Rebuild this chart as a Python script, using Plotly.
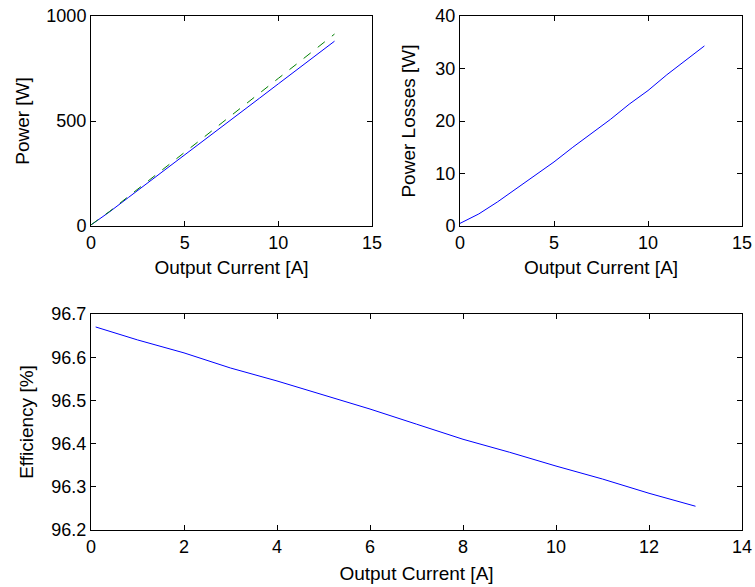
import plotly.graph_objects as go

# Data
current = [0, 1, 2, 3, 4, 5, 6, 7, 8, 9, 10, 11, 12, 13]
power_out = [5, 68, 136, 203, 271, 339, 406, 474, 541, 609, 677, 744, 812, 880]
power_in = [5.5, 70, 141, 210, 281, 351, 421, 492, 561, 632, 703, 773, 844, 914]
losses = [0.5, 2.3, 4.6, 7.1, 9.7, 12.2, 15.0, 17.7, 20.3, 23.2, 25.8, 28.8, 31.5, 34.3]
eff_current = [0.1, 1, 2, 3, 4, 5, 6, 7, 8, 9, 10, 11, 12, 13]
efficiency = [96.67, 96.64, 96.61, 96.575, 96.545, 96.513, 96.48, 96.445, 96.41,
              96.38, 96.348, 96.318, 96.285, 96.255]

FONT = "Liberation Sans, Arial, sans-serif"
TICK_FS = 18
TITLE_FS = 19

# body margin is removed by the post script, so the figure fills the window
W, H = 755, 587
OFF = 0


def dx(px):
    return (px - OFF) / W


def dy(px):
    return 1 - (px - OFF) / H


fig = go.Figure()
fig.add_trace(go.Scatter(x=current, y=power_out, mode="lines",
                         line=dict(color="#0000ff", width=1), xaxis="x", yaxis="y"))
fig.add_trace(go.Scatter(x=current, y=power_in, mode="lines",
                         line=dict(color="#008000", width=1, dash="dash"), xaxis="x", yaxis="y"))
fig.add_trace(go.Scatter(x=current, y=losses, mode="lines",
                         line=dict(color="#0000ff", width=1), xaxis="x2", yaxis="y2"))
fig.add_trace(go.Scatter(x=eff_current, y=efficiency, mode="lines",
                         line=dict(color="#0000ff", width=1), xaxis="x3", yaxis="y3"))

ax = dict(showline=True, linecolor="black", linewidth=1, mirror="ticks",
          ticks="inside", ticklen=5, tickcolor="black", showgrid=False,
          zeroline=False, automargin=False, ticklabeloverflow="allow",
          tickfont=dict(family=FONT, size=TICK_FS, color="black"))
tf = dict(family=FONT, size=TITLE_FS, color="black")

top_y = [dy(226), dy(16)]
bot_y = [dy(530), dy(314)]

fig.update_layout(
    width=W, height=H,
    margin=dict(l=0, r=0, t=0, b=0),
    paper_bgcolor="white", plot_bgcolor="white",
    showlegend=False,
    font=dict(family=FONT, size=TICK_FS, color="black"),
    xaxis=dict(**ax, domain=[dx(91), dx(372)], anchor="y", range=[0, 15],
               tickvals=[0, 5, 10, 15],
               title=dict(text="Output Current [A]", standoff=9, font=tf)),
    yaxis=dict(**ax, domain=top_y, anchor="x", range=[0, 1000],
               tickvals=[0, 500, 1000],
               title=dict(text="Power [W]", standoff=11, font=tf)),
    xaxis2=dict(**ax, domain=[dx(460), dx(742)], anchor="y2", range=[0, 15],
                tickvals=[0, 5, 10, 15],
                title=dict(text="Output Current [A]", standoff=9, font=tf)),
    yaxis2=dict(**ax, domain=top_y, anchor="x2", range=[0, 40],
                tickvals=[0, 10, 20, 30, 40],
                title=dict(text="Power Losses [W]", standoff=14, font=tf)),
    xaxis3=dict(**ax, domain=[dx(91), dx(742)], anchor="y3", range=[0, 14],
                tickvals=[0, 2, 4, 6, 8, 10, 12, 14],
                title=dict(text="Output Current [A]", standoff=11, font=tf)),
    yaxis3=dict(**ax, domain=bot_y, anchor="x3", range=[96.2, 96.7],
                tickvals=[96.2, 96.3, 96.4, 96.5, 96.6, 96.7],
                ticktext=["96.2", "96.3", "96.4", "96.5", "96.6", "96.7"],
                title=dict(text="Efficiency [%]", standoff=12, font=tf)),
)

fig.write_html(
    "out.html",
    config={"displayModeBar": False, "staticPlot": True},
    post_script="document.body.style.margin='0';document.body.style.overflow='hidden';",
)
